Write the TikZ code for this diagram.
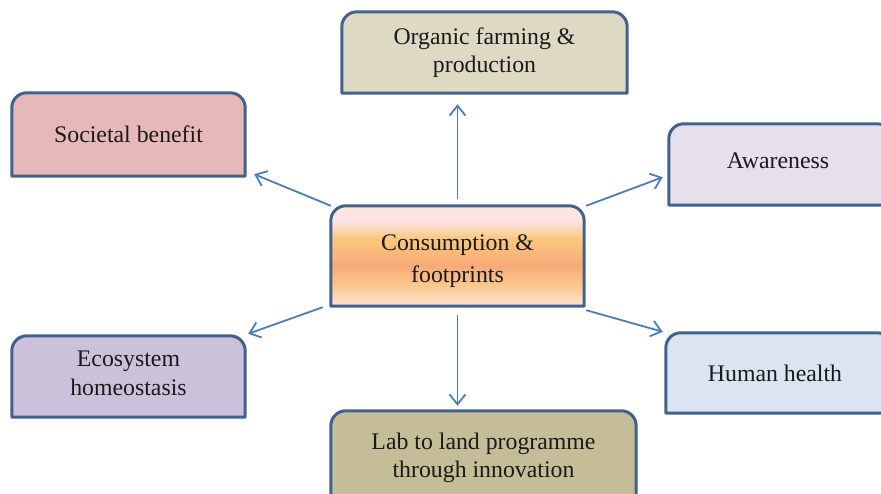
\documentclass[tikz,border=0pt]{standalone}
\usepackage{fontspec}
\setmainfont{Liberation Serif}
\usetikzlibrary{arrows.meta,calc,backgrounds}

\definecolor{edge}{HTML}{41628C}
\definecolor{link}{HTML}{4A7EBB}
\definecolor{ink}{HTML}{1A1A1A}
\definecolor{orgfill}{HTML}{DDD9C3}
\definecolor{socfill}{HTML}{E6B9B8}
\definecolor{awfill}{HTML}{E5E0EC}
\definecolor{ecofill}{HTML}{CCC1DA}
\definecolor{hhfill}{HTML}{DBE5F1}
\definecolor{labfill}{HTML}{C4BD97}

% warm band shading for the central box (bottom at 25bp, top at 75bp)
\definecolor{cA}{HTML}{FBE6D6}
\definecolor{cB}{HTML}{FCE4E8}
\definecolor{cC}{HTML}{F9C77C}
\definecolor{cD}{HTML}{F8AA78}
\definecolor{cE}{HTML}{FAC98E}
\definecolor{cF}{HTML}{FCE6D4}
\pgfdeclareverticalshading{consume}{100bp}{%
  color(0bp)=(cF); color(25bp)=(cF); color(35bp)=(cE);
  color(45bp)=(cD); color(58.5bp)=(cC); color(67.5bp)=(cB);
  color(75bp)=(cA); color(100bp)=(cA)}

% box text: #1 = twice the horizontal shift, #2 = last baseline below centre
\newcommand\cardtext[3]{\kern#1\raisebox{#2}[0pt][0pt]{\begin{tabular}[b]{@{}c@{}}#3\end{tabular}}}

\tikzset{
  card/.style={rectangle, inner sep=0pt, text=ink,
    font=\fontsize{23.8}{28}\selectfont},
  boxline/.style={draw=edge, line width=3pt, line join=round},
  arr/.style={draw=link, line width=1.8pt,
    -{Straight Barb[length=10pt,width=16pt,line width=1.8pt]}},
}

\begin{document}
\begin{tikzpicture}[x=1pt,y=-1pt]
\useasboundingbox (0,0) rectangle (881,494);
\clip (0,0) rectangle (881,494);

% boxes
\node[card, minimum width=285pt, minimum height=81pt] (org) at (484.5,52.5)
  {\cardtext{0pt}{-20.5pt}{Organic farming \&\\production}};
\node[card, minimum width=233pt, minimum height=83pt] (soc) at (128.5,134.5)
  {\cardtext{0pt}{-8pt}{Societal benefit}};
\node[card, minimum width=223pt, minimum height=81pt] (aw) at (780.5,164.5)
  {\cardtext{-5pt}{-4pt}{Awareness}};
\node[card, minimum width=253pt, minimum height=100pt,
  font=\fontsize{23.8}{32}\selectfont] (c) at (457.5,256)
  {\cardtext{0pt}{-27pt}{Consumption \&\\footprints}};
\node[card, minimum width=233pt, minimum height=81pt] (eco) at (128.5,376.5)
  {\cardtext{0pt}{-18.5pt}{Ecosystem\\homeostasis}};
\node[card, minimum width=226pt, minimum height=80pt] (hh) at (779,373)
  {\cardtext{-8pt}{-9pt}{Human health}};
\node[card, minimum width=305pt, minimum height=86pt] (lab) at (483.5,454)
  {\cardtext{0pt}{-23pt}{Lab to land programme\\through innovation}};

% round-topped outlines behind the texts
\begin{scope}[on background layer]
  \foreach \n/\f in {org/orgfill, soc/socfill, aw/awfill, eco/ecofill, hh/hhfill, lab/labfill}
    \draw[boxline, fill=\f] (\n.south west) [rounded corners=15pt] -- (\n.north west)
      -- (\n.north east) [sharp corners] -- (\n.south east) -- cycle;
  \shade[shading=consume] (c.south west) [rounded corners=15pt] -- (c.north west)
      -- (c.north east) [sharp corners] -- (c.south east) -- cycle;
  \draw[boxline] (c.south west) [rounded corners=15pt] -- (c.north west)
      -- (c.north east) [sharp corners] -- (c.south east) -- cycle;
\end{scope}

% connectors
\draw[arr, shorten <=7pt, shorten >=11pt] (c.north) -- (c.north |- org.south);
\draw[arr, shorten <=9pt, shorten >=5pt] (c.south) -- (c.south |- lab.north);
\draw[arr] (c.north west) -- ($(soc.south east)+(9,-2)$);
\draw[arr] ($(c.north east)+(2,0)$) -- ($(aw.south west)+(-6,-28)$);
\draw[arr] ($(c.south west)+(-8,1)$) -- ($(eco.north east)+(3,-2)$);
\draw[arr] ($(c.south east)+(2,4)$) -- ($(hh.north west)+(-3,-1)$);
\end{tikzpicture}
\end{document}
